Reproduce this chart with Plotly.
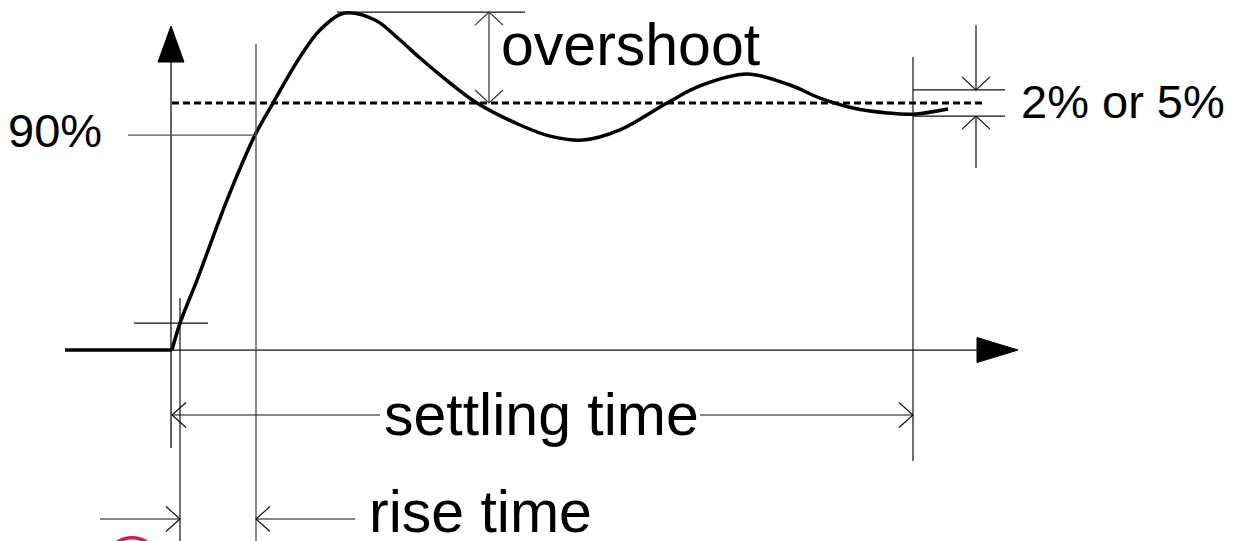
import plotly.graph_objects as go

# ---- data (time in drawing units, response normalised: 0 = start, 1 = final value) ----
curve_t = [172, 180, 197, 227, 255, 273, 300, 320, 345, 375, 400, 420, 450, 477,
           520, 550, 583, 620, 667, 700, 747, 790, 820, 853, 887, 913, 948]
curve_r = [0.0, 0.109, 0.283, 0.607, 0.870, 1.0, 1.186, 1.296, 1.364, 1.336, 1.255,
           1.182, 1.081, 1.0, 0.911, 0.866, 0.850, 0.891, 1.0, 1.069, 1.117, 1.073,
           1.020, 0.980, 0.960, 0.955, 0.976]
baseline_t = [65, 172]
baseline_r = [0.0, 0.0]

labels = ["overshoot", "settling time", "rise time", "90%", "2% or 5%"]

# key levels / times
T_STEP = 172
T_YAXIS = 171
T_10 = 180
T_90 = 256
T_SETTLE = 913
FINAL = 1.0
LEVEL_90 = 0.870
LEVEL_10 = 0.109
PEAK = 1.368
BAND_HI = 1.053
BAND_LO = 0.947

X_RANGE = [0, 1233]
Y_RANGE = [-0.773, 1.417]

AH_T = 14      # arrowhead length (time units)
AH_R = 0.0506  # arrowhead half-height (response units)
AV_R = 0.0526  # vertical arrowhead length
AV_T = 14      # vertical arrowhead half-width

fig = go.Figure()
fig.add_trace(go.Scatter(x=baseline_t, y=baseline_r, mode="lines",
                         line=dict(color="black", width=3.5), hoverinfo="skip"))
fig.add_trace(go.Scatter(x=curve_t, y=curve_r, mode="lines",
                         line=dict(color="black", width=3.5, shape="spline", smoothing=1.0),
                         hoverinfo="skip"))

shapes = []
def line(x0, y0, x1, y1, color="#111", width=1.2, dash=None):
    d = dict(type="line", x0=x0, y0=y0, x1=x1, y1=y1, xref="x", yref="y",
             line=dict(color=color, width=width))
    if dash:
        d["line"]["dash"] = dash
    shapes.append(d)

def path(p, color="#111", width=1.2, fill=None):
    d = dict(type="path", path=p, xref="x", yref="y", line=dict(color=color, width=width))
    if fill:
        d["fillcolor"] = fill
    shapes.append(d)

def head_left(x, y, c="#111"):
    path(f"M {x+AH_T},{y+AH_R} L {x},{y} L {x+AH_T},{y-AH_R}", c)

def head_right(x, y, c="#111"):
    path(f"M {x-AH_T},{y+AH_R} L {x},{y} L {x-AH_T},{y-AH_R}", c)

def head_up(x, y, c="#111"):
    path(f"M {x-AV_T},{y-AV_R} L {x},{y} L {x+AV_T},{y-AV_R}", c)

def head_down(x, y, c="#111"):
    path(f"M {x-AV_T},{y+AV_R} L {x},{y} L {x+AV_T},{y+AV_R}", c)

# axes
line(T_YAXIS, -0.397, T_YAXIS, 1.166, "#111", 1.3)
path(f"M 158,1.166 L {T_YAXIS},1.312 L 184,1.166 Z", "black", 1, "black")
line(T_STEP, 0, 977, 0, "#111", 1.3)
path("M 977,0.0506 L 1018,0 L 977,-0.0506 Z", "black", 1, "black")

# final value (dashed)
line(T_STEP, FINAL, 985, FINAL, "black", 3, "7px,4px")

# 10% cross and 90% line
line(134, LEVEL_10, 208, LEVEL_10)
line(T_10, 0.211, T_10, Y_RANGE[0])
line(128, LEVEL_90, T_90, LEVEL_90, "#555", 1.4)
line(T_90, 1.239, T_90, Y_RANGE[0], "#555", 1.4)

# settling
line(T_SETTLE, 1.186, T_SETTLE, -0.449)
line(T_STEP, -0.263, 380, -0.263)
line(700, -0.263, T_SETTLE, -0.263)
head_left(T_STEP, -0.263)
head_right(T_SETTLE, -0.263)

# rise time
line(100, -0.684, T_10, -0.684)
head_right(T_10, -0.684)
line(355, -0.684, T_90, -0.684)
head_left(T_90, -0.684)

# overshoot
line(337, PEAK, 525, PEAK)
line(489, PEAK, 489, FINAL, "#666", 1.6)
head_up(489, PEAK, "#333")
head_down(489, FINAL, "#333")

# tolerance band
line(T_SETTLE, BAND_HI, 1005, BAND_HI)
line(T_SETTLE, BAND_LO, 1005, BAND_LO)
line(976, 1.316, 976, BAND_HI)
head_down(976, BAND_HI)
line(976, BAND_LO, 976, 0.737)
head_up(976, BAND_LO)

# red mark at bottom
shapes.append(dict(type="circle", xref="x", yref="y", x0=104, x1=160, y0=-0.760, y1=-1.0,
                   line=dict(color="#e8174a", width=3.5)))

big = dict(family="Liberation Sans, Arial, sans-serif", size=59, color="black")
small = dict(family="Liberation Sans, Arial, sans-serif", size=47, color="black")
annotations = [
    dict(x=499, y=1.235, text=labels[0], font=big),
    dict(x=382, y=-0.263, text=labels[1], font=big),
    dict(x=367, y=-0.655, text=labels[2], font=big),
    dict(x=6, y=0.887, text=labels[3], font=small),
    dict(x=1019, y=1.008, text=labels[4], font=small),
]
for a in annotations:
    a.update(xref="x", yref="y", xanchor="left", yanchor="middle", showarrow=False)

fig.update_layout(
    width=1233, height=541, margin=dict(l=0, r=0, t=0, b=0),
    paper_bgcolor="white", plot_bgcolor="white", showlegend=False,
    xaxis=dict(range=X_RANGE, visible=False, fixedrange=True),
    yaxis=dict(range=Y_RANGE, visible=False, fixedrange=True),
    shapes=shapes, annotations=annotations,
)
fig.write_html("out.html", config=dict(displayModeBar=False),
               post_script="document.body.style.margin='0';document.body.style.overflow='hidden';")
